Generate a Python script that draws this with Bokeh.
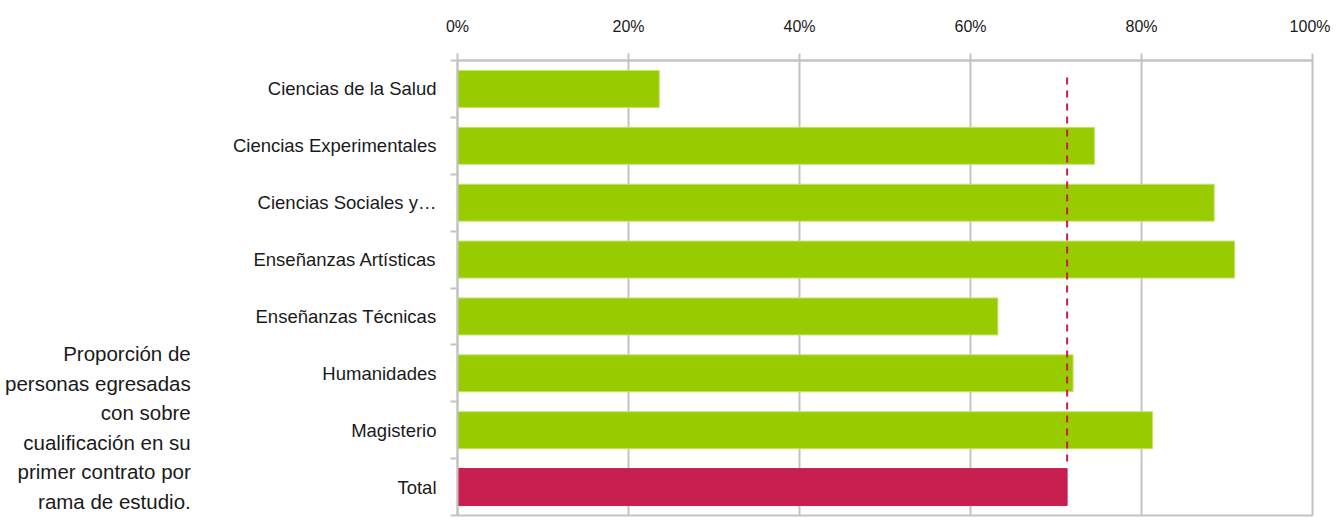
from bokeh.plotting import figure
from bokeh.models import (Range1d, FixedTicker, PrintfTickFormatter,
                          LinearAxis, ColumnDataSource, Div)
from bokeh.layouts import row
from bokeh.embed import file_html
from bokeh.resources import INLINE

# ---- data ----
categories = ["Ciencias de la Salud", "Ciencias Experimentales", "Ciencias Sociales y…",
              "Enseñanzas Artísticas", "Enseñanzas Técnicas", "Humanidades",
              "Magisterio", "Total"]
values = [23.6, 74.5, 88.5, 90.9, 63.2, 72.0, 81.3, 71.3]
x_ticks = [0, 20, 40, 60, 80, 100]
side_text = ["Proporción de", "personas egresadas", "con sobre",
             "cualificación en su", "primer contrato por", "rama de estudio."]

FONT = "Liberation Sans"
GREEN = "#99CC00"
CRIMSON = "#C81E50"
GRAY = "#C3C3C3"
TXT = "#1a1a1a"

n = len(categories)
ypos = [n - i - 0.5 for i in range(n)]          # category slot centres, first on top
colors = [CRIMSON if c == "Total" else GREEN for c in categories]
edges = [CRIMSON if c == "Total" else "#C4E36A" for c in categories]
src = ColumnDataSource(dict(y=ypos, val=values, color=colors, edge=edges))

p = figure(width=1120, height=518, output_backend="svg", toolbar_location=None,
           y_range=Range1d(0, n), x_range=Range1d(0, 100),
           x_axis_location="above", y_axis_location=None,
           min_border_left=247, min_border_right=18, min_border_top=60, min_border_bottom=3)
p.background_fill_color = "white"
p.border_fill_color = "white"
p.outline_line_color = GRAY
p.outline_line_width = 2
p.ygrid.visible = False

# top x axis
xa = p.xaxis[0]
xa.ticker = FixedTicker(ticks=x_ticks)
xa.formatter = PrintfTickFormatter(format="%d%%")
xa.axis_line_color = GRAY
xa.axis_line_width = 2
xa.major_tick_line_color = GRAY
xa.major_tick_line_width = 2
xa.major_tick_in = 0
xa.major_tick_out = 7
xa.minor_tick_line_color = None
xa.major_label_text_font = FONT
xa.major_label_text_font_size = "16px"
xa.major_label_text_color = TXT
xa.major_label_standoff = 19

p.xgrid.ticker = FixedTicker(ticks=x_ticks)
p.xgrid.grid_line_color = GRAY
p.xgrid.grid_line_width = 2

# left boundary tick marks (between categories)
bounds = list(range(n + 1))
tick_axis = LinearAxis(ticker=FixedTicker(ticks=bounds),
                       major_label_overrides={b: "" for b in bounds},
                       major_label_standoff=0,
                       major_label_text_font_size="1px",
                       axis_line_color=GRAY, axis_line_width=2,
                       major_tick_line_color=GRAY, major_tick_line_width=2,
                       major_tick_in=0, major_tick_out=7,
                       minor_tick_line_color=None)
p.add_layout(tick_axis, "left")

# category labels at slot centres
label_axis = LinearAxis(ticker=FixedTicker(ticks=ypos),
                        major_label_overrides={y: c for y, c in zip(ypos, categories)},
                        axis_line_color=None, major_tick_line_color=None,
                        minor_tick_line_color=None,
                        major_label_text_font=FONT,
                        major_label_text_font_size="18.5px",
                        major_label_text_color=TXT,
                        major_label_standoff=8)
p.add_layout(label_axis, "left")

# bars
p.hbar(y="y", left=0, right="val", height=0.65, fill_color="color",
       line_color="edge", line_width=1, source=src)

# dashed reference line at the Total value
total_val = values[categories.index("Total")]
p.segment(x0=[total_val], x1=[total_val],
          y0=[ypos[-2] - 0.55], y1=[ypos[0] + 0.23],
          line_color=CRIMSON, line_width=2, line_dash="7 6")

html_lines = "<br>".join(side_text)
div = Div(text=(f'<div style="text-align:right; padding-top:334px; padding-right:14px; '
                f'white-space:nowrap; font-family:\'{FONT}\'; font-size:20.5px; '
                f'line-height:29.5px; color:{TXT};">{html_lines}</div>'),
          width=200, height=518)

layout = row(div, p)
open("out.html", "w").write(file_html(layout, INLINE))
